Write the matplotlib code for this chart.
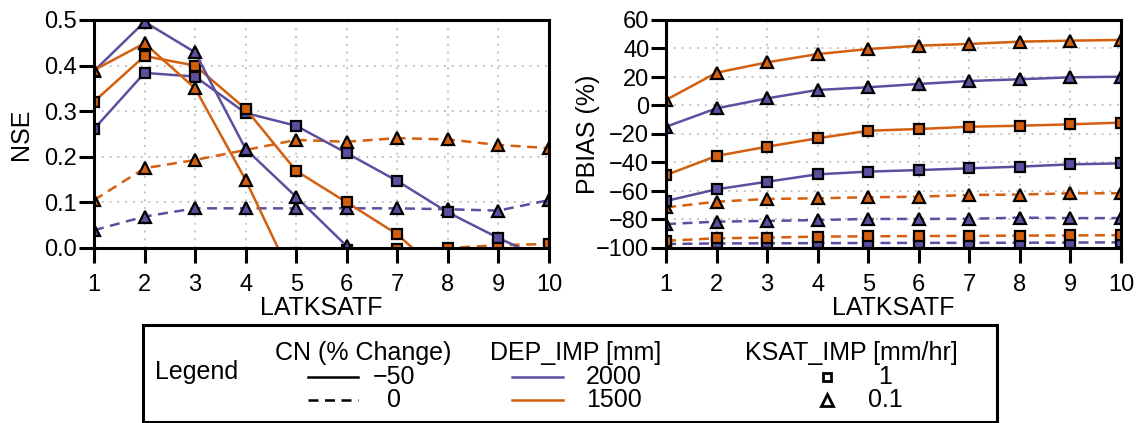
import matplotlib
matplotlib.use('Agg')
import matplotlib.pyplot as plt
from matplotlib.lines import Line2D
from matplotlib.patches import Rectangle

plt.rcParams['font.family'] = ['Liberation Sans', 'DejaVu Sans']
plt.rcParams['axes.unicode_minus'] = True

# ---------------- data ----------------
latksatf = [1, 2, 3, 4, 5, 6, 7, 8, 9, 10]

# NSE (left panel); values below 0 are clipped by the axis
nse_cn50_d2000_k1 = [0.261, 0.384, 0.376, 0.296, 0.268, 0.208, 0.147, 0.078, 0.022, -0.030]
nse_cn50_d2000_k01 = [0.388, 0.496, 0.429, 0.217, 0.112, 0.004, -0.100, -0.200, -0.300, -0.400]
nse_cn50_d1500_k1 = [0.321, 0.421, 0.400, 0.305, 0.169, 0.100, 0.030, -0.070, -0.170, -0.270]
nse_cn50_d1500_k01 = [0.390, 0.449, 0.350, 0.149, -0.084, -0.300, -0.500, -0.700, -0.900, -1.100]
nse_cn0_d2000_k1 = [-1.20, -1.00, -0.90, -0.80, -0.70, -0.60, -0.50, -0.45, -0.40, -0.35]
nse_cn0_d2000_k01 = [0.039, 0.069, 0.087, 0.087, 0.087, 0.087, 0.087, 0.085, 0.082, 0.105]
nse_cn0_d1500_k1 = [-0.60, -0.40, -0.25, -0.15, -0.08, -0.005, -0.002, 0.000, 0.006, 0.009]
nse_cn0_d1500_k01 = [0.105, 0.175, 0.193, 0.215, 0.237, 0.233, 0.241, 0.238, 0.226, 0.219]

# PBIAS (right panel)
pb_cn50_d2000_k1 = [-67.0, -58.8, -53.5, -48.3, -46.4, -45.3, -44.1, -42.9, -41.3, -40.6]
pb_cn50_d2000_k01 = [-14.9, -2.0, 5.0, 10.9, 12.8, 15.1, 17.2, 18.4, 19.8, 20.2]
pb_cn50_d1500_k1 = [-48.8, -35.4, -28.9, -23.0, -17.7, -16.5, -14.9, -14.2, -13.2, -12.0]
pb_cn50_d1500_k01 = [3.9, 23.0, 30.3, 36.1, 39.6, 42.0, 43.2, 44.8, 45.5, 46.0]
pb_cn0_d2000_k1 = [-97.2, -96.8, -96.7, -96.6, -96.5, -96.4, -96.4, -96.3, -96.2, -96.0]
pb_cn0_d2000_k01 = [-83.2, -81.5, -81.0, -80.4, -79.6, -79.6, -79.5, -78.7, -79.0, -79.0]
pb_cn0_d1500_k1 = [-94.9, -93.2, -92.7, -92.0, -91.8, -91.6, -91.5, -91.3, -91.2, -91.0]
pb_cn0_d1500_k01 = [-71.5, -67.5, -65.6, -65.1, -64.4, -64.0, -62.8, -62.5, -61.6, -61.6]

cn_levels = ['\u221250', '0']
dep_levels = ['2000', '1500']
ksat_levels = ['1', '0.1']

# ---------------- styles ----------------
PURPLE = '#5C4FA0'
ORANGE = '#D45F0E'
line_styles = {'\u221250': '-', '0': (0, (4, 2.6))}
dep_colors = {'2000': PURPLE, '1500': ORANGE}
ksat_markers = {'1': ('s', 7), '0.1': ('^', 9)}

nse_series = [
    ('0', '2000', '1', nse_cn0_d2000_k1),
    ('0', '1500', '1', nse_cn0_d1500_k1),
    ('0', '2000', '0.1', nse_cn0_d2000_k01),
    ('0', '1500', '0.1', nse_cn0_d1500_k01),
    ('\u221250', '2000', '1', nse_cn50_d2000_k1),
    ('\u221250', '1500', '1', nse_cn50_d1500_k1),
    ('\u221250', '2000', '0.1', nse_cn50_d2000_k01),
    ('\u221250', '1500', '0.1', nse_cn50_d1500_k01),
]
pb_series = [
    ('0', '2000', '1', pb_cn0_d2000_k1),
    ('0', '1500', '1', pb_cn0_d1500_k1),
    ('0', '2000', '0.1', pb_cn0_d2000_k01),
    ('0', '1500', '0.1', pb_cn0_d1500_k01),
    ('\u221250', '2000', '1', pb_cn50_d2000_k1),
    ('\u221250', '1500', '1', pb_cn50_d1500_k1),
    ('\u221250', '2000', '0.1', pb_cn50_d2000_k01),
    ('\u221250', '1500', '0.1', pb_cn50_d1500_k01),
]

W, H = 1147, 423
fig = plt.figure(figsize=(W / 100, H / 100), dpi=100)

# legend layer (pixel coordinates)
lax = fig.add_axes([0, 0, 1, 1])
lax.set_xlim(0, W)
lax.set_ylim(H, 0)
lax.axis('off')

ax1 = fig.add_axes([94 / W, 1 - 248 / H, 455 / W, 228 / H])
ax2 = fig.add_axes([666 / W, 1 - 248 / H, 455 / W, 228 / H])


def style_axes(ax):
    ax.set_xlim(1, 10)
    ax.set_xticks(latksatf)
    ax.grid(True, color='#c4c4c4', linestyle=(0, (1, 3)), linewidth=1.4)
    ax.set_axisbelow(True)
    for sp in ax.spines.values():
        sp.set_linewidth(2.2)
    ax.tick_params(direction='out', length=11, width=2.2, labelsize=17)
    ax.tick_params(axis='y', pad=1)
    ax.tick_params(axis='x', pad=8)
    ax.set_xlabel('LATKSATF', fontsize=18, labelpad=0)


def draw(ax, series):
    for cn, dep, ks, vals in series:
        m, ms = ksat_markers[ks]
        ax.plot(latksatf, vals, linestyle=line_styles[cn], color=dep_colors[dep],
                linewidth=1.8, marker=m, markersize=ms, markerfacecolor=dep_colors[dep],
                markeredgecolor='black', markeredgewidth=1.6)


draw(ax1, nse_series)
style_axes(ax1)
ax1.set_ylim(0, 0.5)
ax1.set_yticks([0.0, 0.1, 0.2, 0.3, 0.4, 0.5])
ax1.set_yticklabels(['0.0', '0.1', '0.2', '0.3', '0.4', '0.5'])
ax1.set_ylabel('NSE', fontsize=18)
ax1.yaxis.set_label_coords(-0.134, 0.5)

draw(ax2, pb_series)
style_axes(ax2)
ax2.set_ylim(-100, 60)
ax2.set_yticks([-100, -80, -60, -40, -20, 0, 20, 40, 60])
ax2.set_ylabel('PBIAS (%)', fontsize=18)
ax2.yaxis.set_label_coords(-0.145, 0.5)

# ---------------- custom legend ----------------
lax.add_patch(Rectangle((143, 325), 854, 97, fill=False, edgecolor='black', linewidth=2.2))
fs = 18
lax.text(155, 372, 'Legend', fontsize=fs, ha='left', va='center')
lax.text(275, 353, 'CN (% Change)', fontsize=fs, ha='left', va='center')
lax.text(490, 353, 'DEP_IMP [mm]', fontsize=fs, ha='left', va='center')
lax.text(745, 353, 'KSAT_IMP [mm/hr]', fontsize=fs, ha='left', va='center')

rows = [377, 400]
for yy, cn in zip(rows, cn_levels):
    lax.add_line(Line2D([308, 358], [yy, yy], color='black', linewidth=1.8,
                        linestyle=line_styles[cn]))
    lax.text(394, yy, cn, fontsize=fs, ha='center', va='center')
for yy, dep in zip(rows, dep_levels):
    lax.add_line(Line2D([512, 563], [yy, yy], color=dep_colors[dep], linewidth=1.8))
    lax.text(614, yy, dep, fontsize=fs, ha='center', va='center')
for yy, ks in zip(rows, ksat_levels):
    m, ms = ksat_markers[ks]
    lax.add_line(Line2D([827], [yy], marker=m, markersize=ms * 0.9, markerfacecolor='white',
                        markeredgecolor='black', markeredgewidth=2.0, linestyle='none'))
    lax.text(885, yy, ks, fontsize=fs, ha='center', va='center')

fig.savefig('out.png', dpi=100)
